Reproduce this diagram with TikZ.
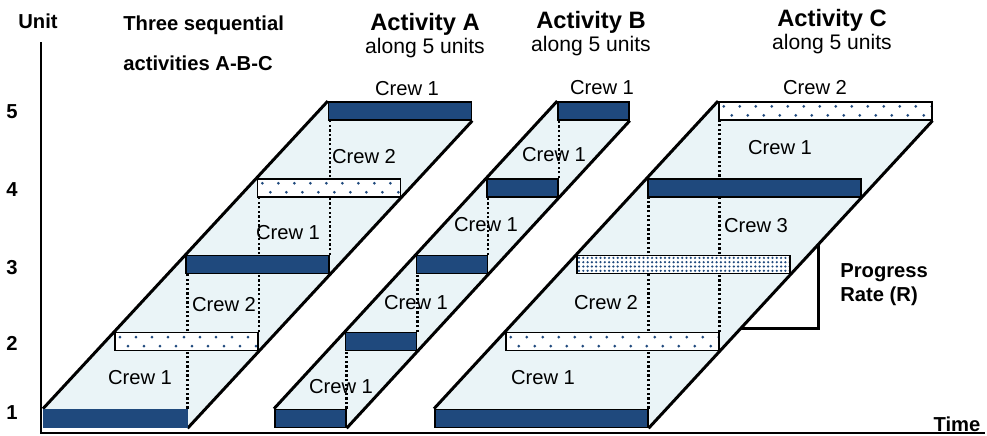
\documentclass[tikz,border=0pt]{standalone}
\usepackage{fontspec}
\setmainfont{Liberation Sans}
\usetikzlibrary{backgrounds,calc}

\definecolor{crewblue}{RGB}{31,73,125}
\definecolor{bandfill}{RGB}{234,244,247}

\tikzset{
	bar/.style={draw=black, line width=0.9pt, inner sep=0pt, minimum height=0.36cm, anchor=west},
	solidbar/.style={bar, fill=crewblue},
	firstbar/.style={bar, draw=crewblue, fill=crewblue},
	dotbar/.style={bar, fill=white, path picture={
		\foreach \u in {0,...,13}{
			\fill[crewblue] ([shift={(5+16*\u,4.5)}]path picture bounding box.north west) circle (0.85pt);
			\fill[crewblue] ([shift={(13+16*\u,13.5)}]path picture bounding box.north west) circle (0.85pt);
		}}},
	densebar/.style={bar, fill=white, path picture={
		\foreach \u in {0,...,49}{
			\foreach \v in {0,...,3}{
				\fill[crewblue] ([shift={(2.2+4.3*\u,2.2+4.3*\v)}]path picture bounding box.north west) circle (0.7pt);
			}
		}}},
	slope/.style={line width=1.7pt},
	crewpath/.style={line width=1.4pt, dash pattern=on 1.3pt off 1.3pt},
	crewlbl/.style={font=\fontsize{11.5}{13}\selectfont, inner sep=0pt},
	axlbl/.style={font=\bfseries\fontsize{11.5}{13.7}\selectfont, inner sep=0pt},
	acthead/.style={font=\bfseries\fontsize{13.5}{15}\selectfont, inner sep=0pt}
}

\begin{document}
\begin{tikzpicture}[x=0.02cm, y=-0.02cm]

\useasboundingbox (0,0) rectangle (987,436);

\draw[line width=1.1pt] (41,42) -- (41,433) -- (985,433);
\node[axlbl] (unit) at (38,21) {Unit};
\node[axlbl] (time) at (957,424) {Time};
\foreach \k/\y in {1/413,2/343,3/268,4/190,5/112}{
	\node[axlbl] (lvl\k) at (12,\y) {\k};
}

% activity A
\foreach \i/\s in {0/firstbar,1/dotbar,2/solidbar,3/dotbar,4/solidbar}{
	\node[\s, minimum width=2.86cm] (A\i) at (43+71.2*\i, 418.5-76.9*\i) {};
}
% activity B
\foreach \i in {0,...,4}{
	\node[solidbar, minimum width=1.42cm] (B\i) at (274+70.8*\i, 418.5-76.9*\i) {};
}
% activity C
\foreach \i/\s in {0/solidbar,1/dotbar,2/densebar,3/solidbar,4/dotbar}{
	\node[\s, minimum width=4.26cm] (C\i) at (434+71*\i, 418.5-76.9*\i) {};
}

\begin{scope}[on background layer]
\foreach \act in {A,B,C}{
	\fill[bandfill] (\act0.north west) -- (\act4.north west) -- (\act4.south east) -- (\act0.south east) -- cycle;
}
% crew moves up
\foreach \lo/\hi in {A0/A2,A1/A3,A2/A4,B0/B1,B1/B2,B2/B3,B3/B4,C0/C3,C1/C4}{
	\draw[crewpath] (\lo.north east) -- (\lo.north east |- \hi.south);
}
\foreach \act in {A,B,C}{
	\draw[slope] (\act0.north west) -- (\act4.north west);
	\draw[slope] (\act0.south east) -- (\act4.south east);
}
\end{scope}

\foreach \n/\x/\y/\t in {a1/140/378/1, a2/224/305/2, a3/288/233/1, a4/364/157/2, a5/407/89/1,
	b1/341/387/1, b2/416/303/1, b3/486/225/1, b4/554/155/1, b5/602/88/1,
	c1/543/378/1, c2/606/303/2, c3/756/226/3, c4/780/148/1, c5/815/88/2}{
	\node[crewlbl] (crew\n) at (\x,\y) {Crew \t};
}

\node[axlbl, anchor=west] (title) at (123,25) {Three sequential};
\node[axlbl, anchor=west] (subtitle) at (123,63) {activities A-B-C};
\foreach \act/\x/\y in {A/425/24,B/591/22,C/832/20}{
	\node[acthead] (head\act) at (\x,\y) {Activity \act};
	\node[crewlbl, font=\fontsize{12}{14}\selectfont] (along\act) at (\x,\y+24) {along 5 units};
}

% progress rate
\coordinate (rlow) at ($(C0.south east)!0.325!(C4.south east)$);
\coordinate (rhigh) at ($(C0.south east)!0.6!(C4.south east)$);
\draw[slope] (rhigh) -- (rhigh |- rlow) -- (rlow);
\node[axlbl, anchor=west, align=left] (rate) at (840,285) {Progress\\Rate (R)};

\end{tikzpicture}
\end{document}
